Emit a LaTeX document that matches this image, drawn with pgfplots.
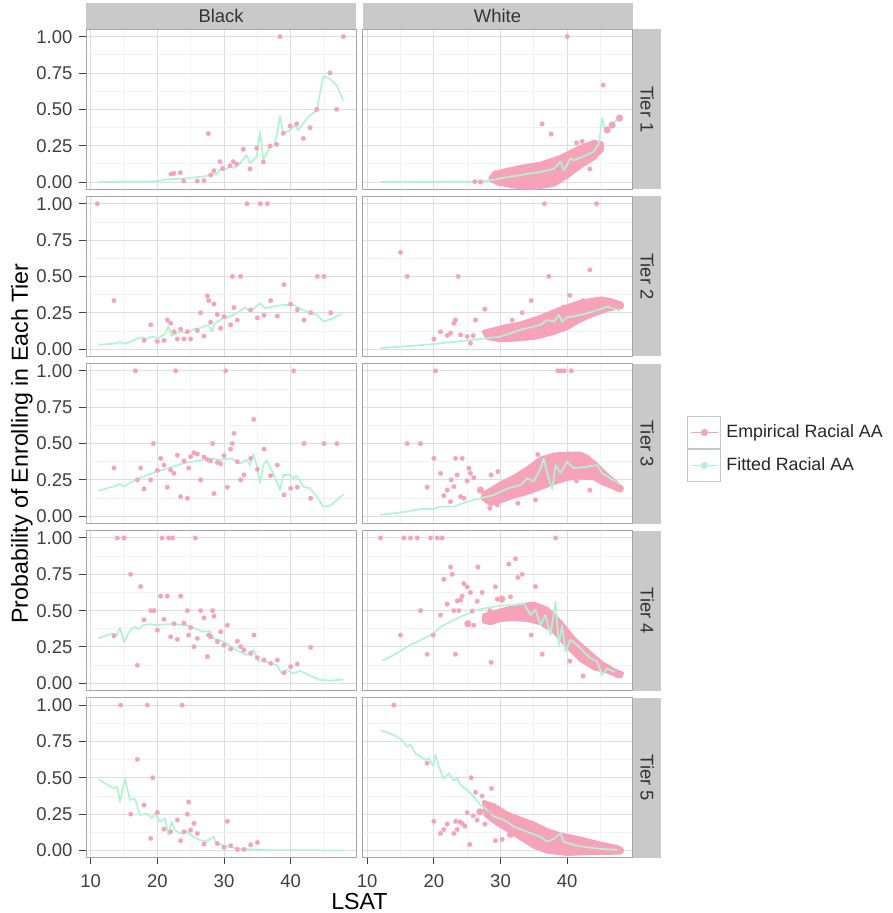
\documentclass[border=0pt]{standalone}
\usepackage{fontspec}
\setmainfont{Liberation Sans}
\usepackage{pgfplots}
\pgfplotsset{compat=1.18}
\definecolor{pinkc}{RGB}{246,162,184}
\definecolor{mintc}{RGB}{176,244,212}
\definecolor{stripc}{RGB}{201,201,201}
\pgfplotsset{
 panel/.style={
  scale only axis, width=135pt, height=79.95pt, anchor=north west,
  xmin=9.3, xmax=49.8, ymin=-0.05, ymax=1.05,
  xtick={10,20,30,40}, ytick={0,0.25,0.5,0.75,1},
  minor xtick={15,25,35,45}, minor ytick={0.125,0.375,0.625,0.875},
  grid=both,
  major grid style={draw=black!13, line width=0.5pt},
  minor grid style={draw=black!5, line width=0.4pt},
  axis line style={draw=black!35, line width=0.5pt},
  tick align=outside, major tick length=3.3pt, minor tick length=0pt,
  tick style={draw=black!75, line width=0.5pt},
  xtick pos=left, ytick pos=left,
  ticklabel style={font=\fontsize{9.25}{11}\selectfont, text=black!75},
  xticklabel style={yshift=-1.5pt},
  /pgf/number format/assume math mode=true,
 },
 leftcol/.style={yticklabels={0.00,0.25,0.50,0.75,1.00}},
 rightcol/.style={ymajorticks=false},
 innerrow/.style={xmajorticks=false},
 emp/.style={pinkc, only marks, mark=*, mark size=1.15pt, mark options={solid, fill=pinkc, draw=pinkc, line width=0.1pt}},
 empbig/.style={pinkc, only marks, mark=*, mark size=1.7pt, mark options={solid, fill=pinkc, draw=pinkc, line width=0.1pt}},
 band/.style={fill=pinkc, draw=pinkc, line width=1.8pt, line join=round},
 fit/.style={mintc, line width=0.85pt, no markers, line join=round},
}
\begin{document}
\begin{tikzpicture}
\useasboundingbox (0,0) rectangle (446pt,-456.5pt);

% ---------------- Row 1 ----------------
\begin{axis}[panel, leftcol, innerrow, at={(43pt,-14.7pt)}]
\addplot[emp] coordinates {(22.05,0.055)(22.5,0.06)(23.45,0.064)(23.95,0.007)(26.0,0.007)(27.0,0.01)(27.65,0.333)(28.0,0.048)(28.5,0.078)(29.4,0.14)(29.8,0.094)(30.9,0.112)(31.4,0.14)(31.9,0.124)(32.9,0.225)(33.9,0.09)(34.9,0.232)(35.9,0.138)(36.9,0.248)(37.9,0.259)(38.4,1.0)(38.9,0.335)(39.9,0.385)(40.9,0.40)(41.9,0.30)(42.9,0.374)(43.9,0.50)(45.9,0.75)(46.9,0.50)(47.9,1.0)};
\addplot[fit] coordinates {(11.15,0)(14,0.001)(17,0.002)(20,0.005)(21.4,0.018)(24.4,0.025)(27.4,0.041)(28.4,0.064)(28.8,0.05)(29.4,0.083)(30.2,0.085)(30.9,0.106)(31.5,0.095)(32.4,0.128)(33.4,0.186)(33.9,0.128)(34.9,0.174)(35.4,0.346)(35.9,0.151)(36.4,0.197)(36.9,0.243)(37.4,0.243)(37.9,0.312)(38.4,0.45)(38.9,0.335)(39.9,0.358)(40.65,0.39)(41.15,0.358)(41.9,0.405)(42.9,0.46)(43.9,0.49)(44.9,0.73)(45.9,0.71)(46.9,0.665)(47.9,0.56)};
\end{axis}
\begin{axis}[panel, rightcol, innerrow, at={(181.25pt,-14.7pt)}]
\addplot[band] coordinates {(28.5,0.03)(29,0.06)(31,0.085)(33,0.105)(36,0.128)(39,0.174)(42,0.243)(44,0.277)(45.25,0.266)(45.25,0.22)(44,0.163)(42,0.105)(40,0.037)(38,-0.02)(35,-0.044)(32,-0.032)(29.5,-0.01)(28.5,0.014)} -- cycle;
\addplot[emp] coordinates {(26.15,0.003)(27,0)(29.25,0.064)(36.25,0.40)(37.6,0.33)(40,1.0)(41.4,0.27)(42.25,0.28)(43.4,0.09)(45.4,0.667)};
\addplot[empbig] coordinates {(46,0.358)(46.75,0.392)(47.85,0.44)};
\addplot[fit] coordinates {(12,0)(20,0.001)(26,0.003)(28,0.008)(30,0.025)(33,0.048)(36,0.07)(38,0.09)(39,0.14)(39.5,0.083)(40,0.12)(40.5,0.163)(41,0.15)(43,0.186)(44,0.21)(44.75,0.266)(45.25,0.44)(45.75,0.346)(46.5,0.39)(47.5,0.43)};
\end{axis}

% ---------------- Row 2 ----------------
\begin{axis}[panel, leftcol, innerrow, at={(43pt,-98.25pt)}]
\addplot[emp] coordinates {(11.0,1.0)(13.5,0.334)(18.0,0.06)(19.0,0.167)(20.0,0.053)(21.0,0.06)(21.5,0.20)(22.0,0.178)(22.5,0.12)(23.0,0.07)(23.5,0.137)(24.0,0.07)(24.5,0.12)(25.0,0.07)(26.0,0.128)(26.5,0.25)(27.0,0.09)(27.5,0.366)(27.7,0.334)(28.0,0.185)(28.5,0.31)(29.0,0.238)(29.5,0.144)(30.0,0.224)(31.0,0.167)(31.25,0.5)(31.5,0.286)(32.0,0.2)(32.5,0.5)(33.45,1.0)(34.0,0.27)(35.0,0.215)(35.45,1.0)(36.0,0.233)(36.5,1.0)(37.0,0.334)(38.0,0.227)(39.0,0.444)(40.0,0.31)(41.0,0.27)(42.0,0.2)(43.0,0.25)(44.0,0.5)(45.0,0.5)(46.0,0.25)};
\addplot[fit] coordinates {(11.15,0.03)(13.4,0.037)(14.4,0.048)(15.15,0.037)(16.4,0.06)(17.65,0.082)(18.4,0.069)(19.15,0.087)(20.15,0.075)(21.15,0.105)(21.65,0.156)(22.15,0.092)(23.4,0.12)(24.4,0.11)(25.4,0.137)(26.4,0.144)(27.65,0.167)(28.15,0.12)(28.65,0.178)(29.9,0.213)(30.9,0.224)(31.9,0.247)(33.15,0.288)(33.9,0.259)(35.4,0.316)(36.15,0.281)(37.4,0.293)(38.9,0.304)(40.4,0.304)(41.4,0.281)(42.9,0.247)(43.9,0.236)(44.9,0.19)(46.4,0.213)(47.65,0.243)};
\end{axis}
\begin{axis}[panel, rightcol, innerrow, at={(181.25pt,-98.25pt)}]
\addplot[band] coordinates {(27.5,0.12)(30.5,0.156)(33,0.178)(36,0.224)(39,0.28)(42,0.327)(45,0.35)(46.5,0.339)(48,0.316)(48.2,0.288)(46,0.27)(44,0.236)(42,0.197)(40,0.144)(38,0.11)(35,0.075)(32,0.064)(30,0.06)(28,0.075)} -- cycle;
\addplot[emp] coordinates {(15.0,0.666)(16.0,0.5)(20.0,0.069)(21.0,0.119)(22.0,0.094)(22.5,0.11)(23.0,0.178)(23.25,0.2)(23.65,0.5)(24.0,0.098)(25.0,0.087)(25.5,0.041)(25.9,0.092)(26.25,0.2)(27.65,0.275)(31.75,0.2)(33.25,0.25)(34.6,0.334)(36.6,1.0)(37.25,0.5)(39.4,0.288)(40.4,0.37)(42.4,0.334)(43.4,0.545)(44.4,1.0)};
\addplot[empbig] coordinates {(47,0.304)(48,0.304)};
\addplot[fit] coordinates {(12,0.007)(16,0.02)(20,0.035)(24,0.055)(28,0.075)(30,0.087)(33,0.133)(36,0.167)(37,0.2)(38,0.19)(38.75,0.236)(39.25,0.19)(40,0.22)(41,0.225)(43,0.247)(45,0.275)(46,0.293)(48,0.265)};
\end{axis}

% ---------------- Row 3 ----------------
\begin{axis}[panel, leftcol, innerrow, at={(43pt,-181.8pt)}]
\addplot[emp] coordinates {(13.5,0.332)(16.7,1.0)(17.0,0.25)(17.5,0.332)(18.0,0.188)(19.0,0.25)(19.4,0.5)(20.0,0.316)(20.5,0.398)(21.0,0.352)(21.5,0.2)(22.0,0.318)(22.5,0.295)(22.75,1.0)(23.0,0.42)(23.5,0.135)(24.0,0.38)(24.5,0.124)(24.7,0.332)(25.0,0.41)(25.5,0.437)(26.0,0.428)(26.5,0.25)(27.0,0.407)(27.5,0.39)(28.0,0.38)(28.3,0.5)(28.5,0.156)(29.0,0.37)(29.5,0.36)(30.0,0.416)(30.25,1.0)(30.5,0.2)(31.0,0.462)(31.25,0.5)(31.5,0.57)(32.0,0.375)(32.5,0.25)(33.0,0.284)(34.0,0.398)(34.45,0.666)(35.0,0.323)(36.0,0.462)(37.0,0.279)(38.0,0.352)(39.0,0.146)(40.0,0.192)(40.45,1.0)(41.0,0.2)(42.0,0.5)(43.0,0.124)(45.0,0.5)(46.95,0.5)};
\addplot[fit] coordinates {(11.15,0.174)(12.4,0.192)(13.9,0.21)(14.4,0.224)(14.9,0.204)(16.4,0.243)(17.9,0.272)(19.9,0.307)(21.9,0.334)(23.9,0.364)(25.9,0.38)(27.9,0.398)(29.4,0.387)(30.9,0.398)(31.9,0.38)(32.4,0.364)(33.4,0.387)(33.9,0.352)(34.4,0.428)(34.9,0.352)(35.4,0.227)(35.9,0.352)(36.4,0.384)(37.4,0.295)(38.4,0.18)(38.9,0.284)(39.9,0.284)(40.4,0.26)(40.9,0.279)(41.9,0.204)(42.9,0.192)(43.9,0.135)(44.9,0.066)(45.9,0.073)(46.9,0.108)(47.9,0.151)};
\end{axis}
\begin{axis}[panel, rightcol, innerrow, at={(181.25pt,-181.8pt)},
  legend style={at={(1.2019,0.466)}, anchor=west, draw=none, fill=none, inner sep=0pt, row sep=0pt,
    font=\fontsize{8.9}{10}\selectfont, text=black!85, nodes={inner ysep=0pt, inner xsep=2.5pt}},
  legend cell align=left,
  legend image code/.code={\draw[black!22, fill=white, line width=0.5pt] (0pt,-8pt) rectangle (16.5pt,8pt);
    \draw[#1, mark repeat=2, mark phase=2] plot coordinates {(1.5pt,0pt) (8.25pt,0pt) (15pt,0pt)};}]
\addlegendimage{pinkc, line width=0.7pt, mark=*, mark size=1.4pt, mark options={solid, draw=pinkc, fill=pinkc}}
\addlegendentry{Empirical Racial AA}
\addlegendimage{mintc, line width=0.7pt, mark=*, mark size=1.4pt, mark options={solid, draw=mintc, fill=mintc}}
\addlegendentry{Fitted Racial AA}
\addplot[band] coordinates {(27.5,0.158)(30,0.227)(32,0.272)(34,0.33)(36,0.398)(38,0.425)(40,0.432)(42,0.432)(43,0.41)(44.5,0.352)(46,0.284)(47.5,0.227)(48.25,0.192)(48,0.174)(46.5,0.204)(45.25,0.227)(44,0.26)(42,0.265)(40,0.256)(38,0.227)(36,0.192)(34,0.158)(32,0.135)(30,0.1)(28.5,0.082)(27.25,0.124)} -- cycle;
\addplot[emp] coordinates {(16,0.5)(18,0.5)(19,0.2)(20,0.398)(20.25,1.0)(21,0.295)(21.5,0.142)(22,0.18)(22.5,0.1)(22.6,0.25)(23,0.204)(23.25,0.398)(23.5,0.284)(24,0.135)(24.25,0.398)(24.5,0.124)(25,0.243)(25.25,0.33)(25.5,0.295)(26,0.265)(28.4,0.055)(28.6,0.284)(29.5,0.078)(29.6,0.307)(30.25,0.227)(31,0.124)(32.6,0.09)(35.25,0.112)(35.6,0.425)(38.6,1.0)(39.1,1.0)(39.6,1.0)(40.6,1.0)(41.4,0.243)(43.4,0.18)};
\addplot[empbig] coordinates {(27,0.18)(47,0.215)(47.9,0.192)};
\addplot[fit] coordinates {(12,0.01)(16,0.032)(18,0.05)(20,0.05)(21,0.066)(23,0.066)(25,0.1)(27,0.124)(29,0.146)(31,0.19)(33,0.215)(34,0.26)(35,0.24)(36,0.33)(36.5,0.398)(37,0.3)(37.75,0.18)(38.25,0.352)(39,0.3)(40,0.375)(41,0.33)(43,0.34)(44.5,0.352)(45.25,0.295)(46.5,0.26)(48,0.215)};
\end{axis}

% ---------------- Row 4 ----------------
\begin{axis}[panel, leftcol, innerrow, at={(43pt,-265.35pt)}]
\addplot[emp] coordinates {(13.5,0.327)(14.0,1.0)(15.0,1.0)(16.0,0.75)(17.0,0.124)(17.5,0.666)(18.0,0.437)(19.0,0.5)(19.5,0.5)(20.0,0.366)(20.5,0.60)(20.7,1.0)(21.0,0.44)(21.5,0.60)(21.7,1.0)(22.3,1.0)(22.0,0.32)(22.5,0.41)(23.0,0.302)(23.5,0.60)(24.0,0.414)(24.5,0.5)(24.7,0.332)(25.0,0.384)(25.5,0.252)(25.7,1.0)(26.0,0.309)(26.5,0.5)(27.0,0.45)(27.5,0.183)(27.7,0.332)(28.0,0.32)(28.3,0.5)(28.5,0.462)(29.0,0.286)(29.5,0.355)(30.0,0.263)(30.5,0.40)(31.0,0.236)(32.0,0.29)(32.5,0.252)(33.0,0.229)(34.0,0.206)(34.5,0.332)(35.0,0.176)(36.0,0.16)(37.0,0.137)(38.0,0.16)(39.0,0.073)(40.0,0.114)(41.0,0.133)(43.0,0.247)};
\addplot[fit] coordinates {(11.15,0.309)(12.4,0.332)(13.4,0.343)(13.9,0.332)(14.4,0.382)(15.0,0.28)(15.9,0.366)(16.65,0.389)(17.15,0.373)(17.9,0.40)(18.9,0.407)(19.9,0.40)(21.4,0.407)(22.9,0.405)(24.4,0.40)(25.4,0.382)(26.9,0.355)(27.9,0.36)(28.4,0.309)(29.4,0.297)(30.4,0.275)(31.4,0.24)(32.4,0.217)(33.4,0.195)(34.4,0.229)(35.15,0.149)(35.9,0.16)(36.9,0.137)(37.9,0.126)(38.65,0.069)(39.4,0.092)(40.4,0.069)(41.4,0.085)(42.9,0.053)(44.4,0.023)(45.9,0.018)(47.9,0.027)};
\end{axis}
\begin{axis}[panel, rightcol, innerrow, at={(181.25pt,-265.35pt)}]
\addplot[band] coordinates {(27.5,0.47)(30,0.503)(33,0.538)(35,0.55)(37,0.515)(39,0.423)(41,0.309)(43,0.229)(45,0.149)(47,0.092)(48.25,0.069)(48,0.046)(46,0.08)(44,0.103)(42,0.16)(40,0.252)(38,0.355)(36,0.412)(34,0.435)(32,0.44)(30,0.435)(28.5,0.412)(27.5,0.423)} -- cycle;
\addplot[emp] coordinates {(12,1.0)(15,0.332)(15.5,1.0)(16.5,1.0)(17.5,1.0)(18,0.5)(19,0.2)(19.5,1.0)(20.5,1.0)(21.25,1.0)(19.9,0.332)(21,0.47)(21.5,0.716)(22,0.545)(22.5,0.80)(22.75,0.75)(23,0.5)(23.25,0.2)(23.5,0.567)(23.75,0.5)(24,0.572)(24.25,0.6)(24.5,0.686)(25,0.664)(25,0.407)(25.5,0.625)(25.75,0.497)(26,0.40)(26.5,0.565)(26.6,0.80)(27.25,0.625)(28.4,0.5)(28.6,0.144)(29.25,0.664)(29.5,0.579)(31.25,0.82)(31.5,0.595)(32.25,0.856)(32.6,0.728)(33.25,0.75)(34.6,0.332)(35.25,0.666)(36.25,0.2)(38.25,1.0)(40.4,0.153)(42.4,0.05)};
\addplot[empbig] coordinates {(25.1,0.41)(30.2,0.58)(47.5,0.06)};
\addplot[fit] coordinates {(12.25,0.156)(14,0.195)(16,0.252)(17,0.275)(18,0.297)(19,0.32)(20,0.343)(21,0.389)(22,0.412)(23,0.435)(24,0.458)(26,0.497)(28,0.52)(30,0.533)(32,0.538)(33.5,0.55)(34.5,0.47)(35.25,0.508)(36,0.40)(36.75,0.47)(37.5,0.332)(38.25,0.565)(38.75,0.263)(39.25,0.40)(39.75,0.217)(40.5,0.3)(41.5,0.263)(42.5,0.217)(43.5,0.172)(44.5,0.15)(45.25,0.057)(46,0.103)(47,0.08)(48,0.062)};
\end{axis}

% ---------------- Row 5 ----------------
\begin{axis}[panel, leftcol, at={(43pt,-348.9pt)}]
\addplot[emp] coordinates {(14.5,1.0)(16.0,0.25)(17.0,0.626)(18.0,0.312)(18.5,1.0)(19.0,0.083)(19.3,0.5)(20.0,0.261)(21.0,0.147)(22.0,0.128)(23.0,0.209)(23.5,0.067)(23.7,1.0)(24.0,0.128)(24.5,0.25)(24.7,0.333)(25.0,0.14)(25.5,0.186)(26.0,0.117)(27.0,0.044)(29.0,0.048)(30.0,0.021)(30.5,0.2)(31.0,0.032)(32.0,0.007)(33.0,0.007)(34.0,0.039)(35.0,0.055)};
\addplot[fit] coordinates {(11.15,0.489)(13.4,0.427)(14.0,0.438)(14.4,0.335)(15.15,0.495)(15.9,0.346)(16.65,0.358)(17.4,0.243)(18.4,0.255)(19.15,0.22)(19.65,0.255)(20.4,0.197)(21.15,0.22)(21.65,0.106)(22.15,0.197)(22.65,0.14)(23.4,0.117)(24.4,0.128)(25.4,0.094)(26.4,0.071)(27.4,0.06)(28.4,0.094)(28.9,0.048)(30.4,0.03)(31.9,0.014)(33.9,0.007)(36.4,0.002)(47.9,0.0)};
\end{axis}
\begin{axis}[panel, rightcol, at={(181.25pt,-348.9pt)}]
\addplot[band] coordinates {(27.5,0.335)(29,0.312)(31,0.255)(33,0.22)(35,0.186)(37,0.14)(39,0.112)(42,0.083)(45,0.048)(47.5,0.025)(48.25,0.007)(48,-0.016)(46,-0.018)(43,-0.02)(40,-0.025)(37,-0.01)(35,0.025)(33,0.083)(31,0.14)(29,0.197)(27.75,0.243)} -- cycle;
\addplot[emp] coordinates {(14,1.0)(19,0.6)(20,0.2)(21,0.117)(21.5,0.144)(22,0.181)(23,0.117)(23.25,0.2)(23.5,0.144)(23.9,0.197)(24.25,0.186)(24.65,0.167)(25,0.26)(25.4,0.041)(25.6,0.5)(25.9,0.239)(26.25,0.4)(26.5,0.209)(27.25,0.374)(27.65,0.181)(28.25,0.25)(28.65,0.427)(29.25,0.067)(29.5,0.186)(30.25,0.076)(30.75,0.174)(31.5,0.112)};
\addplot[empbig] coordinates {(26.9,0.266)(31.5,0.11)(48,0.0)};
\addplot[fit] coordinates {(12,0.828)(14,0.794)(15.25,0.76)(16,0.713)(16.5,0.73)(17.25,0.667)(18,0.644)(18.75,0.622)(19.25,0.635)(19.9,0.58)(20.25,0.656)(20.75,0.575)(21.5,0.495)(22.25,0.53)(23,0.479)(23.5,0.5)(24,0.45)(25,0.415)(26,0.37)(27,0.312)(28,0.278)(29,0.232)(30,0.22)(31,0.197)(32,0.163)(34,0.128)(36,0.094)(37,0.06)(38,0.08)(39,0.117)(39.5,0.06)(41,0.037)(43,0.021)(45,0.011)(48,0.002)};
\end{axis}

% ---------------- strips ----------------
\fill[stripc] (43pt,-1.35pt) rectangle (178pt,-14.4pt);
\fill[stripc] (181.25pt,-1.35pt) rectangle (316.25pt,-14.4pt);
\node[font=\fontsize{9.2}{11}\selectfont, text=black!80] at (110.5pt,-7.9pt) {Black};
\node[font=\fontsize{9.2}{11}\selectfont, text=black!80] at (248.75pt,-7.9pt) {White};
\foreach \k/\t in {0/Tier 1,1/Tier 2,2/Tier 3,3/Tier 4,4/Tier 5}{
  \fill[stripc] (316.6pt,{-14.7pt-83.55pt*\k}) rectangle (330.5pt,{-14.7pt-83.55pt*\k-79.95pt});
  \node[rotate=-90, font=\fontsize{9.2}{11}\selectfont, text=black!80] at (323.55pt,{-14.7pt-83.55pt*\k-39.975pt}) {\t};
}
% ---------------- axis titles ----------------
\node[rotate=90, font=\fontsize{11.6}{13}\selectfont] at (11pt,-221.75pt) {Probability of Enrolling in Each Tier};
\node[font=\fontsize{11.6}{13}\selectfont, inner sep=1pt] at (179.7pt,-451pt) {LSAT};
\end{tikzpicture}
\end{document}
